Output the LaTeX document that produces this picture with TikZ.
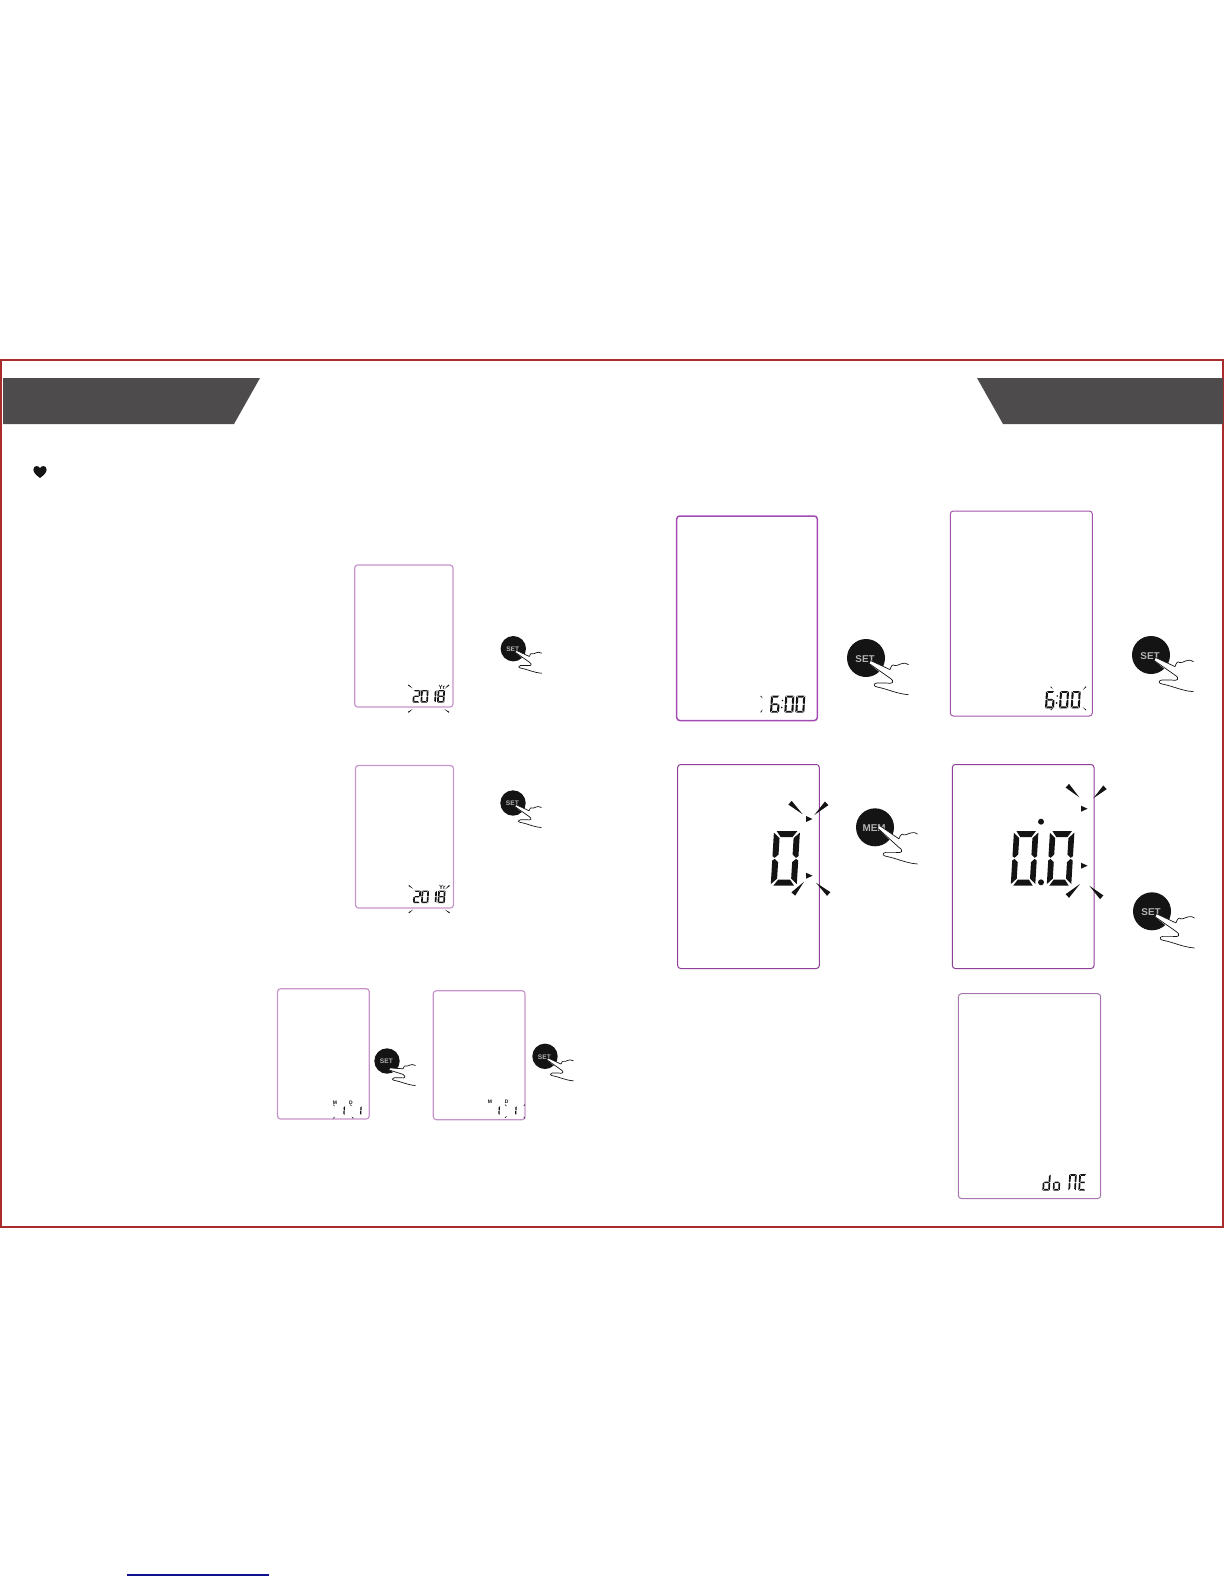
\documentclass[tikz,border=0pt]{standalone}
\usepackage{fontspec}
\setsansfont{Liberation Sans}
\definecolor{framered}{HTML}{A82B2E}
\definecolor{bandgrey}{HTML}{4D4B4B}
\definecolor{inkblack}{HTML}{141414}
\definecolor{linkblue}{HTML}{10108C}
\definecolor{lcdpale}{HTML}{C795CC}
\definecolor{lcdstrong}{HTML}{A24BB0}
\definecolor{lcdmid}{HTML}{A055A8}
\definecolor{lcddeep}{HTML}{8E3F98}
\definecolor{lcdsoft}{HTML}{A875B0}
\tikzset{
  lcdbox/.style={rounded corners=3pt,line width=1pt},
  lcdink/.style={fill=inkblack},
  handline/.style={draw=inkblack,line width=.7pt,line join=round,line cap=round},
  btnlabel/.style={text=black!30,inner sep=0pt,font=\sffamily\bfseries},
  tinylabel/.style={text=inkblack,inner sep=0pt,font=\sffamily\bfseries},
}
% seven-segment parts in a unit box
\def\lsega{\fill[lcdink] (.10,0)--(.90,0)--(.73,.11)--(.27,.11)--cycle;}
\def\lsegd{\fill[lcdink] (.10,1)--(.90,1)--(.73,.89)--(.27,.89)--cycle;}
\def\lsegg{\fill[lcdink] (.26,.45)--(.74,.45)--(.82,.5)--(.74,.55)--(.26,.55)--(.18,.5)--cycle;}
\def\lsegf{\fill[lcdink] (0,.03)--(.23,.13)--(.23,.43)--(.09,.49)--(0,.46)--cycle;}
\def\lsegb{\fill[lcdink] (1,.03)--(.77,.13)--(.77,.43)--(.91,.49)--(1,.46)--cycle;}
\def\lsege{\fill[lcdink] (0,.97)--(.23,.87)--(.23,.57)--(.09,.51)--(0,.54)--cycle;}
\def\lsegc{\fill[lcdink] (1,.97)--(.77,.87)--(.77,.57)--(.91,.51)--(1,.54)--cycle;}
% x of lower-left, y of top, width, height, segment list
\newcommand\lcddigit[5]{%
  \pgfmathsetmacro\lcdx{#1+.06*#4}%
  \pgfmathsetmacro\lcdsx{-.06*#4}%
  \pgfmathsetmacro\lcdsy{-#4}%
  \begin{scope}[shift={(\lcdx,#2)},x={(#3 pt,0pt)},y={(\lcdsx pt,\lcdsy pt)}]
    \foreach \s in {#5} {\csname lseg\s\endcsname}
  \end{scope}}
% blink wedge: wide outer end, point inner end, width
\newcommand\blink[5]{%
  \pgfmathsetmacro\bdx{#3-#1}%
  \pgfmathsetmacro\bdy{#4-#2}%
  \pgfmathsetmacro\bdl{veclen(\bdx,\bdy)}%
  \pgfmathsetmacro\bnx{-\bdy/\bdl*#5/2}%
  \pgfmathsetmacro\bny{\bdx/\bdl*#5/2}%
  \fill[lcdink] (#1+\bnx,#2+\bny) -- (#1-\bnx,#2-\bny) -- (#3,#4) -- cycle;}
\newcommand\marker[2]{\fill[lcdink] (#1-3,#2-3) -- (#1+3.5,#2) -- (#1-3,#2+3) -- cycle;}
% name, x, y, radius, label, fingertip height
\newcommand\handbtn[6]{%
  \pgfmathsetmacro\btnfs{#4*.52}%
  \begin{scope}[shift={(#2,#3)},x=#4pt,y=-#4pt]
    \fill[inkblack] (0,0) circle (1);
    \node[btnlabel] (#1) at (-.05,.04) {\fontsize{\btnfs}{\btnfs}\selectfont #5};
    \fill[white] (.26,#6) -- (1.26,.61) -- (1.46,1.0) -- (1.44,1.32) -- (.18,#6+.16) -- cycle;
    \draw[handline] (.26,#6) -- (1.26,.61) .. controls (1.32,.45) and (1.4,.28) .. (1.52,.4)
       .. controls (1.62,.46) and (1.68,.32) .. (1.8,.32)
       .. controls (1.95,.32) and (2.0,.2) .. (2.23,.35);
    \draw[handline] (.18,#6+.16) -- (1.25,1.05) .. controls (1.55,1.25) and (1.4,1.38) .. (1.1,1.32)
       -- (.56,1.32) .. controls (.38,1.35) and (.38,1.5) .. (.6,1.53)
       .. controls (1.2,1.65) and (1.6,1.88) .. (2.23,1.93);
  \end{scope}}
\newcommand\yearblock[3]{%
  \begin{scope}[shift={(#1,#2)}]
    \lcddigit{412.5}{690}{7.3}{12.5}{a,b,g,e,d}
    \lcddigit{420.5}{690}{7.3}{12.5}{a,b,c,d,e,f}
    \lcddigit{428.5}{690}{7.3}{12.5}{b,c}
    \lcddigit{437}{690}{7.3}{12.5}{a,b,c,d,e,f,g}
    \node[tinylabel] (yr#3) at (441.7,687) {\fontsize{6}{6}\selectfont Yr};
    \blink{408.3}{685}{412.7}{688.3}{1.2}
    \blink{449}{685}{444.3}{689}{1.2}
    \blink{408.3}{712.3}{412.7}{709}{1.2}
    \blink{449}{712.3}{444.3}{709}{1.2}
  \end{scope}}
\begin{document}
\begin{tikzpicture}[x=1pt,y=-1pt]
\useasboundingbox (0,0) rectangle (1224,1584);
% page frame and header bands
\draw[framered,line width=2pt] (1,360) rectangle (1223,1227);
\fill[bandgrey] (3,378) -- (260,378) -- (234,424) -- (3,424) -- cycle;
\fill[bandgrey] (977,378) -- (1223,378) -- (1223,424) -- (1003,424) -- cycle;
% heart bullet
\fill[inkblack] (40,478) .. controls (36,475) and (33.4,472.5) .. (33.4,469.6)
  .. controls (33.4,465.5) and (38.5,464.8) .. (40,468.2)
  .. controls (41.5,464.8) and (46.6,465.5) .. (46.6,469.6)
  .. controls (46.6,472.5) and (44,475) .. (40,478) -- cycle;
% link underline
\draw[linkblue,line width=1.1pt] (127,1575) -- (269,1575);
% display outlines
\draw[lcdbox,lcdpale,line width=1.2pt] (354.7,565) rectangle (453,707);
\draw[lcdbox,lcdpale,line width=1.2pt] (355.5,765.5) rectangle (453.5,908);
\draw[lcdbox,lcdpale,line width=1.2pt] (277.5,988.7) rectangle (369.3,1119);
\draw[lcdbox,lcdpale,line width=1.2pt] (433.3,990.7) rectangle (525,1119.7);
\draw[lcdbox,lcdstrong,line width=1.5pt] (676.7,516) rectangle (817.3,720.5);
\draw[lcdbox,lcdmid] (950.3,511) rectangle (1092.3,716);
\draw[lcdbox,lcddeep] (677.6,764.5) rectangle (819.3,968.5);
\draw[lcdbox,lcddeep] (952.3,764.5) rectangle (1094,968.5);
\draw[lcdbox,lcdsoft] (958.4,993.7) rectangle (1100.7,1198.5);
% year readouts
\yearblock{0}{0}{a}
\yearblock{.5}{200.5}{b}
% month / day readouts
\node[tinylabel] (monthc) at (335,1102.3) {\fontsize{5}{5}\selectfont M};
\node[tinylabel] (dayc) at (351,1102.3) {\fontsize{5}{5}\selectfont D};
\lcddigit{339}{1106}{5.5}{9}{b,c}
\lcddigit{355.7}{1106}{5.5}{9}{b,c}
\blink{333.3}{1104.7}{335}{1106.3}{.9}
\blink{350}{1104.7}{352.3}{1106.3}{.9}
\blink{333.3}{1118.3}{335}{1116.7}{.9}
\blink{353.3}{1118.3}{351.7}{1116.7}{.9}
\node[tinylabel] (monthd) at (490,1101.3) {\fontsize{5}{5}\selectfont M};
\node[tinylabel] (dayd) at (506.7,1101.3) {\fontsize{5}{5}\selectfont D};
\lcddigit{494}{1106}{5.5}{9}{b,c}
\lcddigit{510.7}{1106}{5.5}{9}{b,c}
\blink{505}{1104.7}{507}{1106.3}{.9}
\blink{505}{1117.7}{507}{1116}{.9}
\blink{525}{1104.7}{523.3}{1106}{.9}
\blink{525}{1118.3}{523.3}{1116.7}{.9}
% 6:00 left
\lcddigit{770}{695.7}{9}{17}{a,f,g,e,c,d}
\fill[lcdink] (782.4,700.5) circle (.9) (781.8,707.5) circle (.9);
\lcddigit{784.3}{695.7}{9}{17}{a,b,c,d,e,f}
\lcddigit{795.3}{695.7}{9}{17}{a,b,c,d,e,f}
\blink{760.7}{696}{762.7}{698.3}{1}
\blink{760.7}{712.3}{762.7}{709.3}{1}
% 6:00 right
\lcddigit{1045}{691}{9}{17.3}{a,f,g,e,c,d}
\fill[lcdink] (1057.2,696) circle (.9) (1056.6,703) circle (.9);
\lcddigit{1059}{691}{9}{17.3}{a,b,c,d,e,f}
\lcddigit{1070.7}{691}{9}{17.3}{a,b,c,d,e,f}
\blink{1050.7}{686.7}{1052.7}{689}{1}
\blink{1050.7}{710}{1053.3}{707.3}{1}
\blink{1086}{686.7}{1082.7}{690}{1}
\blink{1086}{710}{1082.7}{707.3}{1}
% big 0
\lcddigit{770.7}{831}{26}{54.7}{a,b,c,d,e,f}
\blink{790}{802.7}{802.7}{814.3}{5}
\blink{826.7}{803.3}{814.3}{815}{5}
\blink{793.3}{894}{804}{881.7}{5}
\blink{828.7}{894}{816}{882.7}{5}
\marker{809}{819}
\marker{809}{875.7}
% big 0.0
\lcddigit{1010.7}{831}{24.5}{54.7}{a,b,c,d,e,f}
\lcddigit{1046.7}{831}{24.5}{54.7}{a,b,c,d,e,f}
\fill[lcdink] (1041,821.7) circle (3) (1041,882.3) circle (3);
\blink{1067.3}{785.7}{1079.3}{797.3}{5}
\blink{1105}{787.3}{1093.3}{798.3}{5}
\blink{1067.3}{896}{1080}{884}{5}
\blink{1101.7}{897.3}{1089.3}{885.7}{5}
\marker{1084}{808.7}
\marker{1084}{865.7}
% doNE
\lcddigit{1042.3}{1174}{7.5}{16.7}{b,c,d,e,g}
\lcddigit{1052.7}{1174}{7}{16.7}{c,d,e,g}
\lcddigit{1068.3}{1174}{7.5}{16.7}{a,b,c,e,f}
\lcddigit{1078.3}{1174}{7.5}{16.7}{a,f,g,e,d}
% buttons with hand
\handbtn{btna}{513.3}{648.7}{12.7}{SET}{.14}
\handbtn{btnb}{513}{803}{12.7}{SET}{.14}
\handbtn{btnc}{387}{1061}{12.7}{SET}{.55}
\handbtn{btnd}{545}{1056.3}{12.7}{SET}{.14}
\handbtn{btne}{866}{658}{19}{SET}{.14}
\handbtn{btnf}{1151}{655}{19}{SET}{.14}
\handbtn{btng}{875}{827.3}{19}{MEM}{-.08}
\handbtn{btnh}{1152}{911.3}{19}{SET}{.14}
\end{tikzpicture}
\end{document}
